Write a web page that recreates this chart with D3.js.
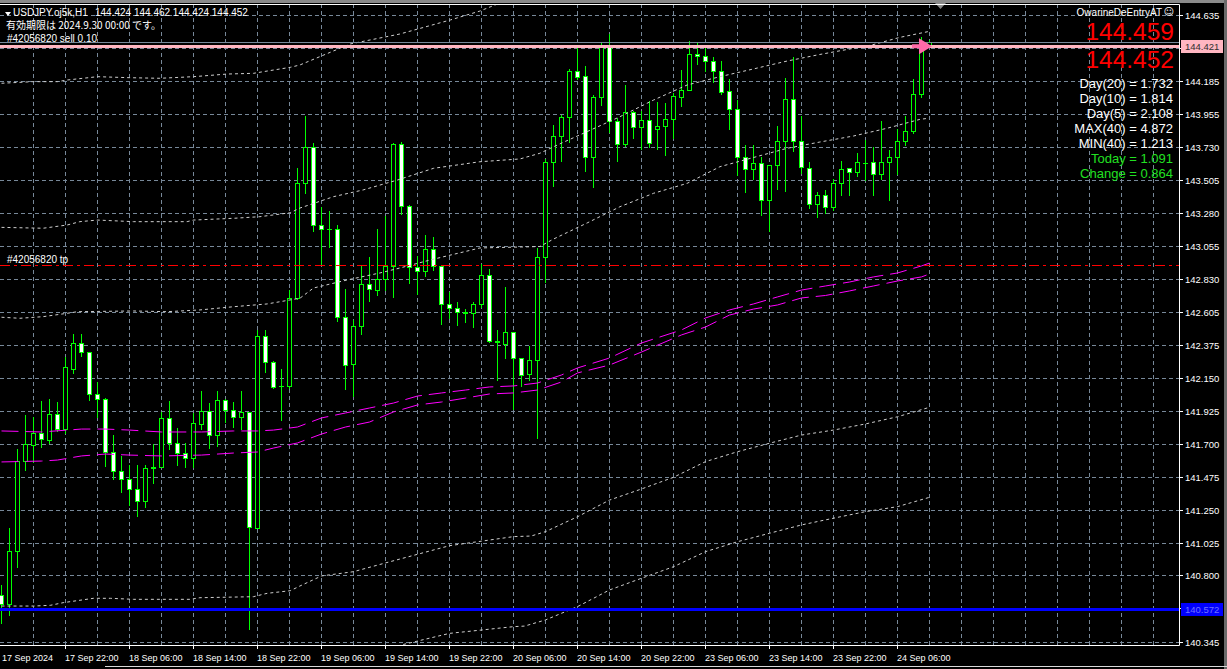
<!DOCTYPE html>
<html>
<head>
<meta charset="utf-8">
<style>
    body { margin: 0; background: #000; overflow: hidden; }
    svg { display: block; }
    text { font-family: 'Liberation Sans', Arial, sans-serif; }
</style>
</head>
<body>
    <div class="chart"></div>

    <script src="https://cdn.jsdelivr.net/npm/d3@7"></script>
    <script>
        // USDJPY.oj5k H1, bars 0..116 (17 Sep 14:00 .. 24 Sep 10:00)
        var opens = [140.666, 140.605, 140.967, 141.581, 141.691, 141.773, 141.725, 141.903, 141.804, 142.215,
            142.389, 142.327, 142.040, 142.005, 141.643, 141.513, 141.462, 141.390, 141.312, 141.536,
            141.540, 141.876, 141.704, 141.638, 141.602, 141.839, 141.924, 141.759, 141.999, 141.930,
            141.882, 141.917, 141.127, 142.437, 142.259, 142.099, 142.099, 142.697, 143.483, 143.730,
            143.196, 143.173, 143.169, 142.567, 142.245, 142.505, 142.792, 142.751, 142.827, 142.916,
            143.750, 143.326, 142.909, 142.881, 143.032, 142.916, 142.655, 142.628, 142.598, 142.594,
            142.655, 142.854, 142.402, 142.386, 142.464, 142.286, 142.177, 142.276, 142.977, 143.627,
            143.805, 143.935, 144.250, 144.216, 143.661, 144.072, 144.414, 143.908, 143.750, 143.969,
            143.867, 143.915, 143.853, 143.873, 143.921, 144.072, 144.120, 144.366, 144.352, 144.318,
            144.250, 144.113, 143.990, 143.661, 143.579, 143.620, 143.367, 143.607, 143.771, 144.058,
            143.771, 143.586, 143.340, 143.401, 143.319, 143.483, 143.586, 143.559, 143.622, 143.627,
            143.545, 143.627, 143.661, 143.771, 143.839, 144.092, 144.424]
        var highs = [140.735, 141.123, 141.663, 141.898, 141.882, 141.996, 142.008, 141.987, 142.293, 142.452,
            142.452, 142.329, 142.124, 142.012, 141.761, 141.620, 141.556, 141.556, 141.556, 141.698,
            141.921, 141.994, 141.809, 141.704, 141.914, 142.062, 141.980, 142.062, 142.005, 141.987,
            142.062, 141.919, 142.480, 142.480, 142.266, 142.213, 142.753, 143.586, 143.944, 143.757,
            143.319, 143.294, 143.196, 142.760, 142.548, 142.920, 142.977, 143.169, 143.262, 143.757,
            143.764, 143.333, 142.984, 143.128, 143.114, 142.920, 142.738, 142.671, 142.623, 142.673,
            142.929, 142.895, 142.478, 142.774, 142.464, 142.286, 142.370, 143.039, 143.648, 143.882,
            143.951, 144.263, 144.407, 144.286, 144.086, 144.445, 144.503, 143.930, 144.156, 143.976,
            143.976, 144.047, 144.038, 144.031, 144.099, 144.257, 144.457, 144.448, 144.407, 144.346,
            144.318, 144.195, 144.051, 143.743, 143.743, 143.661, 143.607, 143.873, 144.202, 144.346,
            143.942, 143.627, 143.424, 143.438, 143.511, 143.636, 143.586, 143.689, 143.778, 143.730,
            143.908, 143.709, 143.853, 143.942, 144.195, 144.487, 144.462]
        var lows = [140.477, 140.529, 140.860, 141.522, 141.578, 141.681, 141.709, 141.787, 141.773, 142.188,
            142.304, 142.001, 141.882, 141.549, 141.462, 141.373, 141.282, 141.207, 141.271, 141.433,
            141.540, 141.663, 141.558, 141.544, 141.544, 141.804, 141.670, 141.686, 141.852, 141.818,
            141.802, 140.432, 141.127, 142.194, 142.081, 141.864, 142.083, 142.690, 143.415, 143.159,
            142.927, 143.050, 142.543, 142.078, 142.028, 142.450, 142.680, 142.721, 142.753, 142.708,
            143.271, 142.799, 142.724, 142.851, 142.892, 142.523, 142.560, 142.516, 142.537, 142.502,
            142.639, 142.396, 142.135, 142.286, 141.941, 142.097, 142.137, 141.741, 142.806, 143.467,
            143.638, 143.768, 144.199, 143.570, 143.460, 144.019, 143.832, 143.638, 143.737, 143.795,
            143.716, 143.730, 143.720, 143.675, 143.791, 144.014, 144.120, 144.298, 144.250, 144.175,
            144.092, 143.857, 143.538, 143.426, 143.511, 143.269, 143.159, 143.447, 143.433, 143.702,
            143.552, 143.312, 143.251, 143.278, 143.299, 143.405, 143.405, 143.535, 143.504, 143.405,
            143.515, 143.371, 143.549, 143.743, 143.826, 144.072, 144.424]
        var closes = [140.605, 140.967, 141.581, 141.698, 141.773, 141.732, 141.903, 141.804, 142.225, 142.389,
            142.327, 142.040, 142.005, 141.643, 141.513, 141.462, 141.390, 141.312, 141.536, 141.542,
            141.876, 141.704, 141.640, 141.602, 141.841, 141.924, 141.759, 141.999, 141.930, 141.882,
            141.919, 141.130, 142.437, 142.259, 142.088, 142.096, 142.697, 143.483, 143.730, 143.196,
            143.169, 143.171, 142.571, 142.238, 142.505, 142.792, 142.758, 142.827, 142.916, 143.750,
            143.326, 142.913, 142.881, 143.032, 142.916, 142.655, 142.628, 142.605, 142.600, 142.655,
            142.854, 142.402, 142.400, 142.464, 142.286, 142.174, 142.272, 142.977, 143.627, 143.805,
            143.935, 144.250, 144.209, 143.661, 144.072, 144.416, 143.908, 143.750, 143.969, 143.867,
            143.915, 143.757, 143.873, 143.921, 144.079, 144.120, 144.366, 144.352, 144.318, 144.250,
            144.106, 143.990, 143.661, 143.579, 143.620, 143.367, 143.607, 143.771, 144.058, 143.771,
            143.593, 143.340, 143.401, 143.319, 143.483, 143.579, 143.559, 143.627, 143.620, 143.545,
            143.627, 143.661, 143.771, 143.839, 144.092, 144.441, 144.452]

        // MTF moving averages (magenta) as [bar, price]
        var maUpper = [[0, 141.789], [5, 141.782], [10, 141.802], [13, 141.802], [16, 141.795], [20, 141.782],
            [25, 141.782], [29, 141.789], [32, 141.789], [34, 141.795], [37, 141.816], [40, 141.878],
            [43, 141.912], [46, 141.946], [49, 141.980], [52, 142.028], [55, 142.049], [58, 142.069],
            [61, 142.090], [64, 142.097], [67, 142.117], [70, 142.172], [72, 142.220], [76, 142.288],
            [80, 142.391], [85, 142.480], [88, 142.562], [91, 142.617], [94, 142.658], [97, 142.706],
            [100, 142.753], [103, 142.781], [106, 142.808], [109, 142.843], [112, 142.870], [115, 142.918],
            [116, 142.938]]
        var maLower = [[0, 141.577], [5, 141.583], [7, 141.590], [10, 141.618], [13, 141.631], [16, 141.624],
            [20, 141.618], [25, 141.624], [29, 141.638], [32, 141.645], [34, 141.672], [37, 141.707],
            [40, 141.768], [43, 141.816], [46, 141.850], [49, 141.919], [52, 141.967], [55, 141.987],
            [58, 142.014], [61, 142.042], [64, 142.049], [67, 142.069], [70, 142.124], [72, 142.186],
            [76, 142.240], [80, 142.329], [85, 142.446], [88, 142.500], [91, 142.582], [94, 142.623],
            [97, 142.651], [100, 142.699], [103, 142.716], [106, 142.747], [109, 142.781], [112, 142.815],
            [115, 142.843], [116, 142.863]]

        // band lines (grey dotted) as [bar, price]
        var bandUp3 = [[0, 144.168], [4, 144.179], [7, 144.179], [8.2, 144.190], [12, 144.213], [16, 144.206],
            [19.8, 144.202], [24, 144.213], [28.2, 144.231], [31.5, 144.236], [32.7, 144.247], [36.1, 144.277],
            [37.3, 144.293], [43.6, 144.437], [49.8, 144.505], [56.1, 144.601], [59.8, 144.662], [64.8, 144.772]]
        var bandUp2 = [[0, 143.182], [5.2, 143.176], [8.2, 143.198], [9.8, 143.221], [12, 143.232], [16.5, 143.221],
            [23.2, 143.221], [24, 143.232], [29, 143.244], [32.3, 143.255], [36.1, 143.282], [37.3, 143.314],
            [41.5, 143.392], [45.2, 143.438], [49.5, 143.506], [54, 143.586], [59.8, 143.631], [64.8, 143.650],
            [67.3, 143.689], [69.5, 143.746], [73.2, 143.837], [77.3, 143.939], [81.5, 144.053], [85.7, 144.156],
            [89.8, 144.213], [94, 144.266], [98.2, 144.320], [102.3, 144.365], [106.5, 144.407], [108.8, 144.430],
            [112.3, 144.482], [115.8, 144.521]]
        var bandUp1 = [[0, 142.567], [2.3, 142.560], [5.2, 142.571], [8.2, 142.594], [9.5, 142.605], [16.5, 142.610],
            [20.7, 142.605], [24.8, 142.617], [29, 142.639], [33.2, 142.658], [37.3, 142.697], [39, 142.767],
            [43.2, 142.822], [47.3, 142.870], [49.8, 142.904], [53.6, 142.959], [59.8, 143.041], [67.3, 143.051],
            [69, 143.102], [73.2, 143.212], [77.3, 143.323], [81.5, 143.415], [85.7, 143.483], [89.8, 143.597],
            [94, 143.660], [98.2, 143.723], [102.3, 143.766], [106.5, 143.807], [110.7, 143.860], [114.8, 143.921],
            [115.8, 143.928]]
        var bandDn1 = [[0, 140.591], [4, 140.591], [6.1, 140.596], [7.7, 140.614], [11.5, 140.644], [13.6, 140.644],
            [16.5, 140.637], [23.6, 140.637], [24.8, 140.648], [31.5, 140.655], [33.2, 140.678], [36.1, 140.696],
            [37.3, 140.728], [40, 140.797], [44, 140.826], [48, 140.886], [56, 141.004], [64, 141.066],
            [66.2, 141.070], [68, 141.100], [72, 141.202], [76, 141.316], [80, 141.392], [84, 141.472],
            [88, 141.579], [92, 141.647], [96, 141.705], [100, 141.761], [104, 141.795], [108, 141.837],
            [112, 141.886], [116, 141.951]]
        var bandDn2 = [[37.3, 140.112], [43.6, 140.215], [50.3, 140.329], [56, 140.404], [64, 140.450],
            [65.4, 140.454], [68, 140.496], [72, 140.587], [76, 140.701], [80, 140.781], [84, 140.860],
            [88, 140.963], [92, 141.031], [96, 141.089], [100, 141.146], [104, 141.192], [108, 141.237],
            [112, 141.271], [116, 141.335]]

        var yTickLabels = ['144.635', '144.410', '144.185', '143.955', '143.730', '143.505', '143.280', '143.055',
            '142.830', '142.605', '142.375', '142.150', '141.925', '141.700', '141.475', '141.250', '141.025',
            '140.800', '140.575', '140.345']
        var xTickBars = [0, 8, 16, 24, 32, 40, 48, 56, 64, 72, 80, 88, 96, 104, 112]
        var xTickLabels = ['17 Sep 2024', '17 Sep 22:00', '18 Sep 06:00', '18 Sep 14:00', '18 Sep 22:00',
            '19 Sep 06:00', '19 Sep 14:00', '19 Sep 22:00', '20 Sep 06:00', '20 Sep 14:00', '20 Sep 22:00',
            '23 Sep 06:00', '23 Sep 14:00', '23 Sep 22:00', '24 Sep 06:00']

        var bidPrice = 144.452,
            sellPrice = 144.421,
            tpPrice = 142.922,
            bluePrice = 140.572

        var infoLines = [
            ['Day(20) = 1.732', '#ffffff'],
            ['Day(10) = 1.814', '#ffffff'],
            ['Day(5) = 2.108', '#ffffff'],
            ['MAX(40) = 4.872', '#ffffff'],
            ['MIN(40) = 1.213', '#ffffff'],
            ['Today = 1.091', '#22e022'],
            ['Change = 0.864', '#22e022']
        ]

        var width = 1227,
            height = 669,
            plotRight = 1179,
            plotTop = 4,
            plotBottom = 645

        var x = d3.scaleLinear()
            .domain([0, 116])
            .range([1, 929])

        var y = d3.scaleLinear()
            .domain([140.345, 144.635])
            .range([642, 15])

        function py(v) { return Math.round(y(v)) + 0.5 }
        function px(i) { return Math.round(x(i)) + 0.5 }

        var svg = d3.select('.chart').append('svg')
            .attr('width', width)
            .attr('height', height)
            .style('background', '#000')

        svg.append('defs').append('clipPath')
            .attr('id', 'plot')
            .append('rect')
            .attr('x', 0).attr('y', plotTop)
            .attr('width', plotRight).attr('height', plotBottom - plotTop)

        // window frame bits
        svg.append('rect').attr('x', 0).attr('y', 0).attr('width', width).attr('height', 3).attr('fill', '#8a8a8a')
        svg.append('path').attr('d', 'M935,3L946,3L940.5,9Z').attr('fill', '#8a8a8a')
        svg.append('rect').attr('x', 1224).attr('y', 0).attr('width', 3).attr('height', height).attr('fill', '#6a6a6a')
        svg.append('line').attr('x1', 105).attr('x2', width).attr('y1', 666.5).attr('y2', 666.5)
            .attr('stroke', '#d8d8d8')

        // grid
        var grid = svg.append('g').attr('stroke', '#778899').attr('stroke-dasharray', '4,3')

        grid.selectAll('.hgrid')
            .data(yTickLabels)
            .enter().append('line')
            .attr('class', 'hgrid')
            .attr('x1', 0).attr('x2', plotRight)
            .attr('y1', function (d) { return py(+d) })
            .attr('y2', function (d) { return py(+d) })

        grid.selectAll('.vgrid')
            .data(d3.range(4, 145, 4))
            .enter().append('line')
            .attr('class', 'vgrid')
            .attr('x1', function (d) { return px(d) })
            .attr('x2', function (d) { return px(d) })
            .attr('y1', plotTop).attr('y2', plotBottom)

        // candles
        var bars = d3.range(opens.length).map(function (i) {
            return { i: i, o: opens[i], h: highs[i], l: lows[i], c: closes[i] }
        })

        var candle = svg.append('g').attr('clip-path', 'url(#plot)')
            .selectAll('g')
            .data(bars)
            .enter().append('g')

        candle.append('line')
            .attr('x1', function (d) { return px(d.i) })
            .attr('x2', function (d) { return px(d.i) })
            .attr('y1', function (d) { return Math.round(y(d.h)) })
            .attr('y2', function (d) { return Math.round(y(d.l)) + 1 })
            .attr('stroke', '#00ff00')

        candle.each(function (d) {
            var top = Math.round(y(Math.max(d.o, d.c))),
                bot = Math.round(y(Math.min(d.o, d.c))),
                cx = Math.round(x(d.i)),
                g = d3.select(this)
            if (bot - top < 1) {
                g.append('line')
                    .attr('x1', cx - 2).attr('x2', cx + 3)
                    .attr('y1', top + 0.5).attr('y2', top + 0.5)
                    .attr('stroke', '#00ff00')
            } else {
                g.append('rect')
                    .attr('x', cx - 1.5).attr('y', top + 0.5)
                    .attr('width', 4).attr('height', bot - top)
                    .attr('fill', d.c >= d.o ? '#000' : '#fff')
                    .attr('stroke', '#00ff00')
            }
        })

        // indicators
        var line = d3.line()
            .x(function (d) { return x(d[0]) + 0.5 })
            .y(function (d) { return y(d[1]) })

        var ind = svg.append('g').attr('clip-path', 'url(#plot)').attr('fill', 'none')

        ind.selectAll('.band')
            .data([bandUp3, bandUp2, bandUp1, bandDn1, bandDn2])
            .enter().append('path')
            .attr('class', 'band')
            .attr('d', line)
            .attr('stroke', '#cfcfcf')
            .attr('stroke-dasharray', '3,3')

        ind.selectAll('.ma')
            .data([maUpper, maLower])
            .enter().append('path')
            .attr('class', 'ma')
            .attr('d', line)
            .attr('stroke', '#ff00ff')
            .attr('stroke-dasharray', '17,7')

        // order / price lines
        ind.append('line')
            .attr('x1', 0).attr('x2', plotRight)
            .attr('y1', py(tpPrice)).attr('y2', py(tpPrice))
            .attr('stroke', '#ff0000')
            .attr('stroke-dasharray', '10,4,3,4')

        ind.append('line')
            .attr('x1', 0).attr('x2', plotRight)
            .attr('y1', py(bidPrice)).attr('y2', py(bidPrice))
            .attr('stroke', '#778899')

        ind.append('line')
            .attr('x1', 0).attr('x2', plotRight)
            .attr('y1', py(sellPrice)).attr('y2', py(sellPrice))
            .attr('stroke', '#ffb6c1')
            .attr('stroke-width', 3)

        ind.append('line')
            .attr('x1', 0).attr('x2', plotRight)
            .attr('y1', py(bluePrice)).attr('y2', py(bluePrice))
            .attr('stroke', '#0000ff')
            .attr('stroke-width', 3)

        // entry arrow on the last bar
        var ax = x(116) + 3,
            ay = y(sellPrice)
        svg.append('path')
            .attr('d', 'M' + (ax - 20) + ',' + (ay - 2) + 'H' + (ax - 13) + 'V' + (ay - 8) + 'L' + ax + ',' + ay +
                'L' + (ax - 13) + ',' + (ay + 8) + 'V' + (ay + 2) + 'H' + (ax - 20) + 'Z')
            .attr('fill', '#ff6aa8')

        // frame
        svg.append('path')
            .attr('d', 'M0,' + (plotTop + 0.5) + 'H' + (plotRight + 0.5) + 'V' + (plotBottom + 0.5) + 'H0')
            .attr('fill', 'none')
            .attr('stroke', '#ffffff')

        // y axis
        var yAxis = svg.append('g')
        yAxis.selectAll('.tick')
            .data(yTickLabels)
            .enter().append('line')
            .attr('x1', plotRight).attr('x2', plotRight + 4)
            .attr('y1', function (d) { return py(+d) })
            .attr('y2', function (d) { return py(+d) })
            .attr('stroke', '#ffffff')
        yAxis.selectAll('text')
            .data(yTickLabels)
            .enter().append('text')
            .attr('x', plotRight + 6)
            .attr('y', function (d) { return Math.round(y(+d)) + 4 })
            .attr('fill', '#ffffff')
            .attr('font-size', '9.5px')
            .text(function (d) { return d })

        function priceTag(v, label, fill, color) {
            var yy = Math.round(y(v))
            svg.append('rect')
                .attr('x', plotRight + 2).attr('y', yy - 6)
                .attr('width', 42).attr('height', 13)
                .attr('fill', fill)
            svg.append('text')
                .attr('x', plotRight + 6).attr('y', yy + 4)
                .attr('fill', color)
                .attr('font-size', '9.5px')
                .text(label)
        }
        priceTag(sellPrice, '144.421', '#ffb6c1', '#303030')
        priceTag(bluePrice, '140.572', '#0000ff', '#7070ff')

        // x axis
        var xAxis = svg.append('g')
        xAxis.selectAll('line')
            .data(xTickBars.slice(1))
            .enter().append('line')
            .attr('x1', function (d) { return px(d) })
            .attr('x2', function (d) { return px(d) })
            .attr('y1', plotBottom).attr('y2', plotBottom + 4)
            .attr('stroke', '#ffffff')
        xAxis.selectAll('text')
            .data(xTickBars)
            .enter().append('text')
            .attr('x', function (d) { return Math.round(x(d)) + (d === 0 ? 1 : 0) })
            .attr('y', 661)
            .attr('fill', '#ffffff')
            .attr('font-size', '9px')
            .text(function (d, i) { return xTickLabels[i] })

        // header texts
        svg.append('path').attr('d', 'M5,12H11L8,16Z').attr('fill', '#ffffff')
        svg.append('text').attr('x', 13).attr('y', 16).attr('fill', '#fff').attr('font-size', '10px')
            .text('USDJPY.oj5k,H1')
        svg.append('text').attr('x', 95).attr('y', 16).attr('fill', '#fff').attr('font-size', '10px')
            .text([opens[116], highs[116], lows[116], closes[116]].map(function (v) { return v.toFixed(3) }).join(' '))
        svg.append('text').attr('x', 6).attr('y', 29).attr('fill', '#fff').attr('font-size', '10px')
            .style('font-family', "'Noto Sans CJK JP', sans-serif")
            .text('有効期限は 2024.9.30 00:00 です。')
        svg.append('text').attr('x', 7).attr('y', 42).attr('fill', '#fff').attr('font-size', '10px')
            .text('#42056820 sell 0.10')
        svg.append('text').attr('x', 7).attr('y', py(tpPrice) - 3).attr('fill', '#fff').attr('font-size', '10px')
            .text('#42056820 tp')

        // panel at top right
        var panel = svg.append('g').attr('text-anchor', 'end')
        panel.append('text').attr('x', 1162).attr('y', 15.5).attr('fill', '#fff').attr('font-size', '10px')
            .text('OwarineDeEntryAT')
        panel.append('text').attr('x', 1174).attr('y', 15).attr('fill', '#fff').attr('font-size', '10px')
            .style('font-family', "'DejaVu Sans'")
            .text('☺')
        panel.append('text').attr('x', 1174).attr('y', 40).attr('fill', '#ff0000').attr('font-size', '24.5px')
            .text('144.459')
        panel.append('text').attr('x', 1174).attr('y', 67.5).attr('fill', '#ff0000').attr('font-size', '24.5px')
            .text(closes[116].toFixed(3))
        panel.selectAll('.info')
            .data(infoLines)
            .enter().append('text')
            .attr('class', 'info')
            .attr('x', 1173)
            .attr('y', function (d, i) { return 88 + i * 15 })
            .attr('fill', function (d) { return d[1] })
            .attr('font-size', '13px')
            .text(function (d) { return d[0] })
    </script>
</body>

</html>
